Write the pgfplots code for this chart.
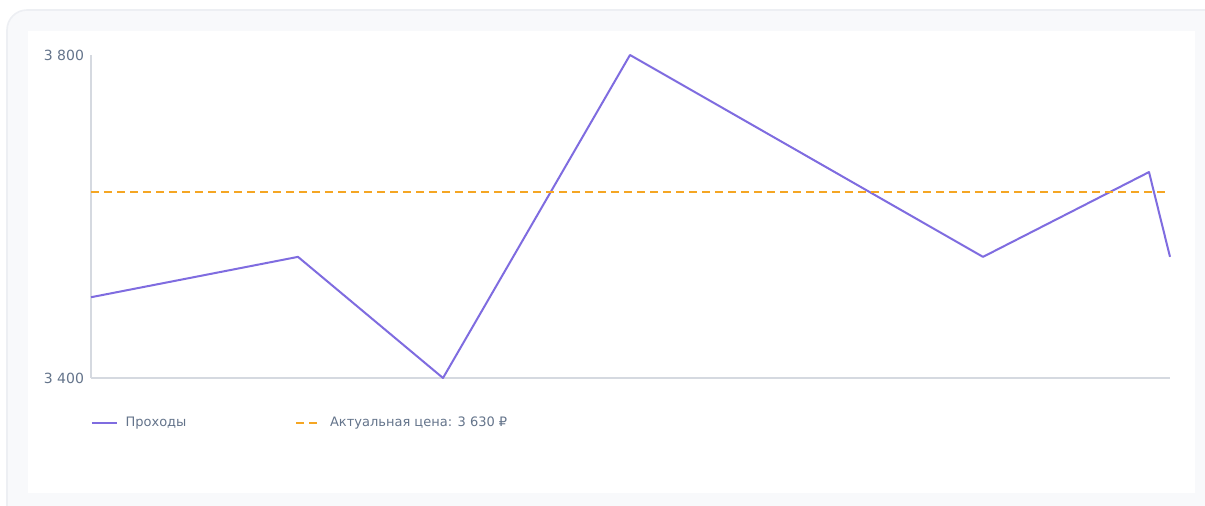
\documentclass[border=0pt]{standalone}
\usepackage{pgfplots}
\pgfplotsset{compat=1.18}
\usepackage{fontspec}
\setmainfont{DejaVu Sans}
\definecolor{purp}{HTML}{7F6CE0}
\definecolor{orng}{HTML}{F5A623}
\definecolor{axcol}{HTML}{D5D9E0}
\definecolor{txtcol}{HTML}{64748B}
\definecolor{cardbg}{HTML}{F8F9FB}
\definecolor{cardborder}{HTML}{EDEFF3}
\begin{document}
\begin{tikzpicture}
\path[use as bounding box] (0,0) rectangle (602.5pt,253pt);
\fill[cardbg, draw=cardborder, line width=0.8pt, rounded corners=10pt] (3.5pt,-10pt) rectangle (615pt,248pt);
\fill[white] (14pt,6.5pt) rectangle (597.5pt,237.5pt);
\begin{axis}[
  at={(45.5pt,64pt)}, anchor=south west,
  scale only axis, width=539.5pt, height=161.5pt,
  xmin=0, xmax=1079, ymin=3400, ymax=3800,
  axis x line*=bottom, axis y line*=left,
  axis line style={axcol, line width=0.6pt},
  xtick=\empty,
  ytick={3400,3800}, yticklabels={3 400,3 800},
  major tick length=0pt,
  yticklabel style={font=\fontsize{7pt}{8pt}\selectfont, text=txtcol, xshift=0pt},
  clip=false,
  legend columns=2,
  legend style={draw=none, fill=none, at={(0,0)}, anchor=west, yshift=-22.5pt,
    inner sep=0pt, outer sep=0pt,
    font=\fontsize{6.5pt}{7.5pt}\selectfont, text=txtcol,
    nodes={inner sep=0pt, outer sep=0pt},
    /tikz/every odd column/.append style={column sep=3.8pt},
    /tikz/every even column/.append style={column sep=54.5pt}},
  legend image code/.code={\draw[#1] (0pt,0pt) -- (12.5pt,0pt);},
]
\addplot[purp, line width=1pt, line join=round] coordinates {
 (0,3500) (207,3550) (352,3400) (539,3800) (892,3550) (1058,3655) (1079,3550)};
\addlegendentry{Проходы}
\addplot[orng, line width=1pt, dash pattern=on 4pt off 2.5pt] coordinates {
 (0,3630) (1075,3630)};
\addlegendentry{Актуальная цена: 3 630 ₽}
\end{axis}
\end{tikzpicture}
\end{document}
